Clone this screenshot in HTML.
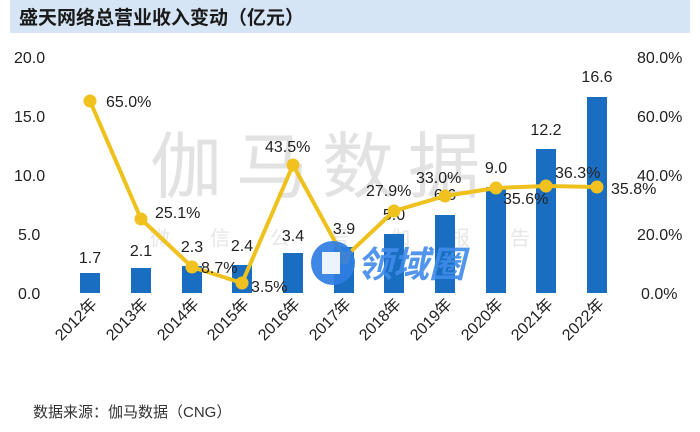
<!DOCTYPE html>
<html><head><meta charset="utf-8"><style>
html,body{margin:0;padding:0;background:#fff;}
svg{display:block;}
text{font-family:"Liberation Sans","Noto Sans CJK SC",sans-serif;fill:#222;}
</style></head><body>
<svg width="700" height="432" viewBox="0 0 700 432" xmlns="http://www.w3.org/2000/svg">
<rect x="0" y="0" width="700" height="432" fill="#fff"/>
<rect x="10" y="0" width="680" height="33" fill="#d5e5f6"/>
<text x="19" y="24" font-size="19" font-weight="bold" style="fill:#1a1a1a">盛天网络总营业收入变动（亿元）</text>

<!-- watermark -->
<text x="150" y="192" font-size="72" style="fill:#e2e2e2" letter-spacing="14">伽马数据</text>
<text x="150" y="245" font-size="20" style="fill:#e6e6e6" letter-spacing="40">微信公号伽报告</text>

<!-- left axis -->
<g font-size="16" text-anchor="start">
<text x="14" y="63">20.0</text>
<text x="14" y="122">15.0</text>
<text x="14" y="181">10.0</text>
<text x="18" y="240">5.0</text>
<text x="18" y="299">0.0</text>
</g>
<!-- right axis -->
<g font-size="16" text-anchor="start">
<text x="637" y="63">80.0%</text>
<text x="637" y="122">60.0%</text>
<text x="637" y="181">40.0%</text>
<text x="637" y="240">20.0%</text>
<text x="641" y="299">0.0%</text>
</g>

<!-- bars -->
<g fill="#1a6ec1">
<rect x="80" y="273" width="20" height="20"/>
<rect x="131" y="268" width="20" height="25"/>
<rect x="182" y="266" width="20" height="27"/>
<rect x="232" y="265" width="20" height="28"/>
<rect x="283" y="253" width="20" height="40"/>
<rect x="334" y="247" width="20" height="46"/>
<rect x="384" y="234" width="20" height="59"/>
<rect x="435" y="215" width="20" height="78"/>
<rect x="486" y="187" width="20" height="106"/>
<rect x="536" y="149" width="20" height="144"/>
<rect x="587" y="97" width="20" height="196"/>
</g>
<!-- bar labels -->
<g font-size="16" text-anchor="middle">
<text x="90" y="263">1.7</text>
<text x="141" y="256">2.1</text>
<text x="192" y="252">2.3</text>
<text x="242" y="251">2.4</text>
<text x="293" y="241">3.4</text>
<text x="344" y="234">3.9</text>
<text x="394" y="220">5.0</text>
<text x="445" y="200">6.6</text>
<text x="496" y="173">9.0</text>
<text x="546" y="135">12.2</text>
<text x="597" y="82">16.6</text>
</g>

<!-- line -->
<polyline fill="none" stroke="#eec11c" stroke-width="4" stroke-linejoin="round"
 points="90,101 141,219 192,267 242,283 293,165 344,258 394,211 445,196 496,188 546,186 597,187"/>
<g fill="#f1c21f">
<circle cx="90" cy="101" r="6.5"/><circle cx="141" cy="219" r="6.5"/><circle cx="192" cy="267" r="6.5"/>
<circle cx="242" cy="283" r="6.5"/><circle cx="293" cy="165" r="6.5"/><circle cx="344" cy="258" r="6.5"/>
<circle cx="394" cy="211" r="6.5"/><circle cx="445" cy="196" r="6.5"/><circle cx="496" cy="188" r="6.5"/>
<circle cx="546" cy="186" r="6.5"/><circle cx="597" cy="187" r="6.5"/>
</g>
<g font-size="16">
<text x="106" y="107">65.0%</text>
<text x="155" y="218">25.1%</text>
<text x="201" y="273">8.7%</text>
<text x="251" y="292">3.5%</text>
<text x="265" y="152">43.5%</text>
<text x="366" y="196">27.9%</text>
<text x="416" y="183">33.0%</text>
<text x="503" y="204">35.6%</text>
<text x="555" y="178">36.3%</text>
<text x="611" y="194">35.8%</text>
</g>

<!-- logo watermark -->
<circle cx="333" cy="263" r="22" fill="#2f7de3" opacity="0.92"/>
<rect x="322" y="252" width="18" height="22" fill="#fff" opacity="0.9"/>
<text x="357" y="277" font-size="36" font-weight="bold" font-style="italic" style="fill:#3f8bea" opacity="0.9">领域圈</text>

<!-- x labels -->
<g font-size="16">
<text transform="translate(98,305) rotate(-45)" text-anchor="end">2012年</text>
<text transform="translate(149,305) rotate(-45)" text-anchor="end">2013年</text>
<text transform="translate(200,305) rotate(-45)" text-anchor="end">2014年</text>
<text transform="translate(250,305) rotate(-45)" text-anchor="end">2015年</text>
<text transform="translate(301,305) rotate(-45)" text-anchor="end">2016年</text>
<text transform="translate(352,305) rotate(-45)" text-anchor="end">2017年</text>
<text transform="translate(402,305) rotate(-45)" text-anchor="end">2018年</text>
<text transform="translate(453,305) rotate(-45)" text-anchor="end">2019年</text>
<text transform="translate(504,305) rotate(-45)" text-anchor="end">2020年</text>
<text transform="translate(554,305) rotate(-45)" text-anchor="end">2021年</text>
<text transform="translate(605,305) rotate(-45)" text-anchor="end">2022年</text>
</g>

<text x="33" y="417" font-size="15" style="fill:#333">数据来源：伽马数据（CNG）</text>
</svg>
</body></html>
